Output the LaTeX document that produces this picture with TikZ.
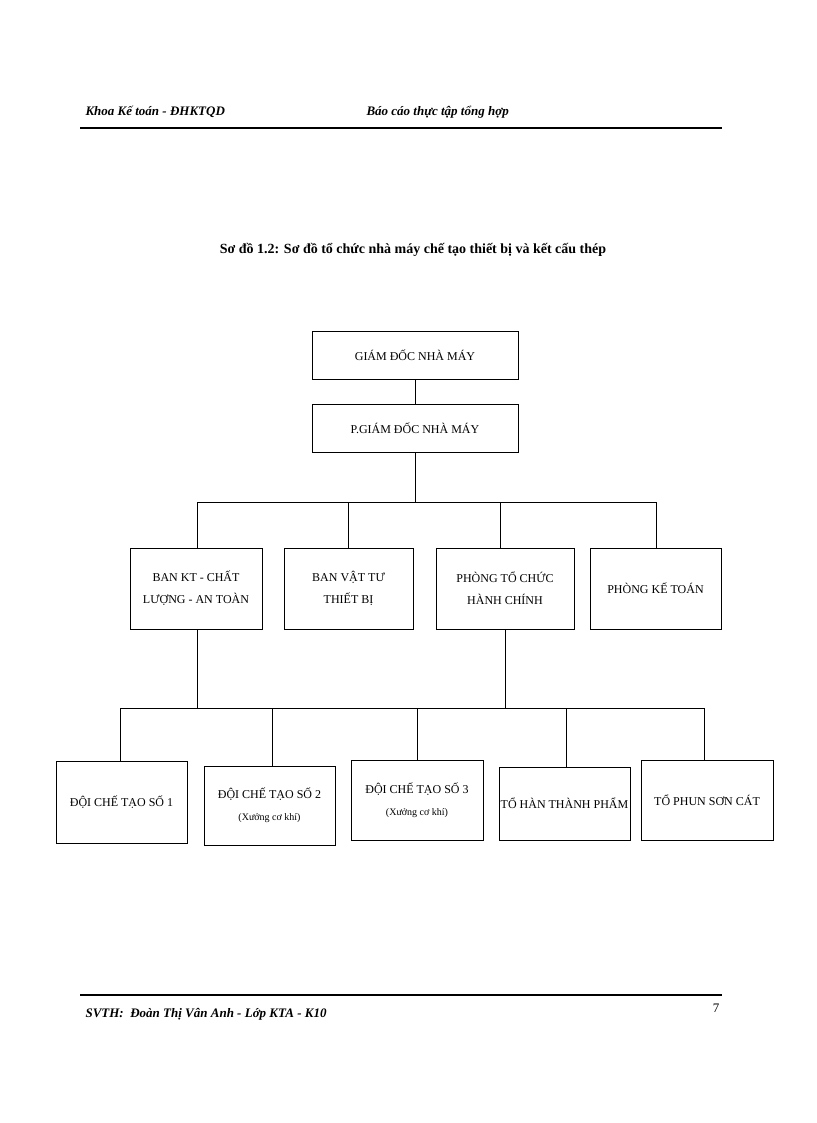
\documentclass[tikz,border=0pt]{standalone}
\usepackage{fontspec}
\setmainfont{Liberation Serif}
\begin{document}
\begin{tikzpicture}[x=1pt,y=-1pt,
  bx/.style={draw,line width=0.9pt,align=center,font=\fontsize{12}{22}\selectfont,inner sep=0pt},
  ln/.style={line width=0.9pt}]
\useasboundingbox (0,0) rectangle (816,1123);
\node[anchor=west,font=\fontsize{13}{15}\selectfont\bfseries\itshape] (h1) at (82,112) {Khoa Kế toán - ĐHKTQD};
\node[anchor=west,font=\fontsize{13}{15}\selectfont\bfseries\itshape] (h2) at (363,112) {Báo cáo thực tập tổng hợp};
\draw[line width=1.8pt] (80,128) -- (722,128);
\node[font=\fontsize{14}{16}\selectfont\bfseries] (t) at (413,250) {Sơ đồ 1.2: Sơ đồ tổ chức nhà máy chế tạo thiết bị và kết cấu thép};
\node[bx,minimum width=206,minimum height=48] (gd) at (415,355) {GIÁM ĐỐC NHÀ MÁY};
\node[bx,minimum width=206,minimum height=48] (pgd) at (415,428) {P.GIÁM ĐỐC NHÀ MÁY};
\draw[ln] (gd) -- (pgd);
\node[bx,minimum width=132,minimum height=81] (b1) at (196,588.5) {BAN KT - CHẤT\\LƯỢNG - AN TOÀN};
\node[bx,minimum width=129,minimum height=81] (b2) at (348.5,588.5) {BAN VẬT TƯ\\THIẾT BỊ};
\node[bx,minimum width=138,minimum height=81] (b3) at (505,588.5) {PHÒNG TỔ CHỨC\\HÀNH CHÍNH};
\node[bx,minimum width=131,minimum height=81] (b4) at (655.5,588.5) {PHÒNG KẾ TOÁN};
\coordinate (j1) at (415,502);
\draw[ln] (pgd.south) -- (j1);
\draw[ln] (197,502) -- (656,502);
\draw[ln] (197,502) -- (b1.north -| 197,0);
\draw[ln] (348,502) -- (b2.north -| 348,0);
\draw[ln] (500,502) -- (b3.north -| 500,0);
\draw[ln] (656,502) -- (b4.north -| 656,0);
\node[bx,minimum width=131,minimum height=82] (c1) at (121.5,802) {ĐỘI CHẾ TẠO SỐ 1};
\node[bx,minimum width=131,minimum height=79] (c2) at (269.5,805.5) {ĐỘI CHẾ TẠO SỐ 2\\{\fontsize{10}{12}\selectfont(Xưởng cơ khí)}};
\node[bx,minimum width=132,minimum height=80] (c3) at (417,800) {ĐỘI CHẾ TẠO SỐ 3\\{\fontsize{10}{12}\selectfont(Xưởng cơ khí)}};
\node[bx,minimum width=131,minimum height=73] (c4) at (564.5,803.5) {TỔ HÀN THÀNH PHẨM};
\node[bx,minimum width=132,minimum height=80] (c5) at (707,800) {TỔ PHUN SƠN CÁT};
\draw[ln] (b1.south -| 197,0) -- (197,708);
\draw[ln] (b3.south -| 505,0) -- (505,708);
\draw[ln] (120,708) -- (704,708);
\draw[ln] (120,708) -- (c1.north -| 120,0);
\draw[ln] (272,708) -- (c2.north -| 272,0);
\draw[ln] (417,708) -- (c3.north);
\draw[ln] (566,708) -- (c4.north -| 566,0);
\draw[ln] (704,708) -- (c5.north -| 704,0);
\draw[line width=1.8pt] (80,995) -- (722,995);
\node[anchor=west,font=\fontsize{13}{15}\selectfont\bfseries\itshape] (f1) at (82,1014) {SVTH:\ \ Đoàn Thị Vân Anh - Lớp KTA - K10};
\node[font=\fontsize{13}{15}\selectfont] (f2) at (716,1008) {7};
\end{tikzpicture}
\end{document}
